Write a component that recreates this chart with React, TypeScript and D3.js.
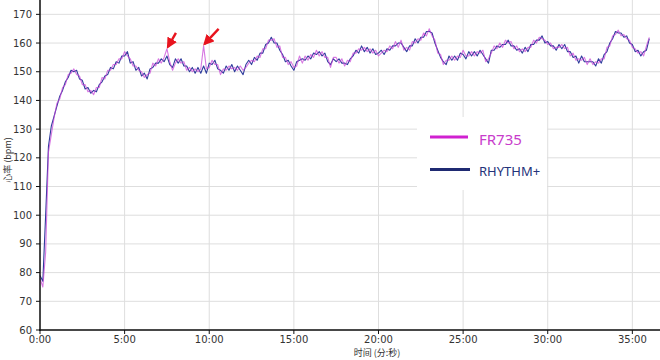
import React from "react";
import * as d3 from "d3";

// sampling interval of both recordings, seconds
const sampleSeconds = 10;

// RHYTHM+ heart rate (bpm), one value every 10 s from 0:00 to 36:00
const rhythmValues = [
  79, 77, 100, 124, 131, 134.5,
  138, 141.5, 143.5, 146.5, 148, 150.5,
  150, 150.5, 147.5, 147, 144, 144.5,
  142.5, 143.5, 143, 145.5, 146.5, 148.5,
  149, 151.5, 151, 153.5, 153, 155.5,
  155.5, 157, 153, 153.5, 150.5, 151.5,
  148.5, 149.5, 147.5, 151, 151.5, 153,
  153, 154.5, 153.5, 155.5, 152.5, 151.5,
  154.5, 153, 154.5, 152, 152, 150,
  151.5, 149.5, 151.5, 149.5, 152, 149.5,
  153, 152.5, 154, 151, 150.5, 149.5,
  152, 150.5, 152.5, 150, 152, 150.5,
  149, 152.5, 154, 152.5, 155, 154,
  156.5, 156.5, 159.5, 160, 162, 160,
  160, 157.5, 156, 153.5, 154, 152,
  150.5, 153.5, 154, 154.5, 154, 155.5,
  154.5, 156.5, 156, 157, 155.5, 156.5,
  153.5, 152.5, 154.5, 153.5, 154.5, 153,
  153, 152.5, 154.5, 155.5, 157.5, 156.5,
  159, 157, 158.5, 156.5, 158, 156,
  156.5, 157.5, 156, 158, 157.5, 159,
  159, 160, 160, 158.5, 157, 159,
  159, 161.5, 160, 162, 162, 164,
  164, 163.5, 160, 157.5, 155, 153.5,
  152.5, 155.5, 154, 155.5, 154, 156.5,
  156, 154.5, 157, 155.5, 157, 155.5,
  157.5, 156, 154.5, 153, 157.5, 157.5,
  159, 158.5, 159.5, 159.5, 161, 159,
  159, 157.5, 158, 156.5, 158.5, 157,
  159.5, 159.5, 161, 161, 162.5, 160,
  160.5, 159, 159, 157.5, 159.5, 158,
  159.5, 157, 157, 155, 155.5, 153,
  155.5, 153.5, 153.5, 153.5, 153.5, 152,
  154.5, 153, 156, 157, 160, 161.5,
  164, 163.5, 163.5, 162, 162.5, 160,
  159.5, 157, 157.5, 155.5, 157, 157.5,
  161.5,
];

// FR735 heart rate (bpm), same sampling
const fr735Values = [
  78, 75, 87, 122, 128, 134,
  139, 140.5, 144.5, 145.5, 149, 149.5,
  151, 149, 148.5, 145.5, 145.5, 143,
  143.5, 142, 144.5, 144.5, 148, 147.5,
  150.5, 150.5, 152.5, 152.5, 154.5, 154.5,
  157, 155.5, 154.5, 152, 152, 150.5,
  150, 148, 149, 149.5, 153, 152,
  154.5, 153, 155, 158, 153.5, 150.5,
  153, 154.5, 153, 153.5, 150.5, 151.5,
  150, 151, 150, 151, 159, 151,
  151.5, 154, 152.5, 152.5, 149, 151,
  150.5, 152, 151, 151.5, 150.5, 152,
  150.5, 151.5, 153, 154, 153.5, 155.5,
  155, 158, 158, 161, 161, 161.5,
  158.5, 159, 155, 155, 152.5, 153.5,
  151.5, 152, 155.5, 153, 155.5, 154,
  156, 155, 157.5, 155.5, 157, 155,
  155, 151.5, 155, 155, 153, 154.5,
  152, 154, 153.5, 156.5, 156.5, 158,
  157.5, 158.5, 157, 158, 156.5, 157.5,
  155.5, 156.5, 157.5, 157, 159, 158,
  160.5, 158.5, 161, 157.5, 158.5, 157.5,
  160.5, 160, 161.5, 161, 163.5, 162.5,
  165, 162.5, 161, 156.5, 156, 152.5,
  154, 154, 155.5, 154, 155.5, 155,
  157.5, 155.5, 155.5, 157, 155.5, 157,
  156.5, 157.5, 153.5, 154.5, 156.5, 159,
  158, 160, 158.5, 161, 160, 160.5,
  158, 159, 157, 158, 157, 158.5,
  158.5, 161, 160, 162, 161.5, 161,
  159.5, 160, 158, 158.5, 158.5, 159.5,
  158, 158.5, 155.5, 156.5, 154, 154.5,
  154, 155, 152.5, 154.5, 152.5, 153.5,
  153, 154.5, 154.5, 158.5, 159, 162.5,
  163, 164.5, 162.5, 163, 161.5, 161,
  158.5, 158, 156.5, 157, 155.5, 159,
  162,
];

// axis ticks
const yTicks = [60, 70, 80, 90, 100, 110, 120, 130, 140, 150, 160, 170];
const xTickMinutes = [0, 5, 10, 15, 20, 25, 30, 35];

// annotated spikes (indices into fr735Values)
const arrowIndices = [45, 58];

const seriesNames = ["FR735", "RHYTHM+"];

const W = 660;
const H = 360;

function fmt(sec: number) {
  const m = Math.floor(sec / 60);
  const s = Math.round(sec % 60);
  return `${m}:${s < 10 ? "0" : ""}${s}`;
}

export default function App() {
  const x = d3.scaleLinear().domain([0, 2198]).range([40, 660]);
  const y = d3.scaleLinear().domain([60, 175]).range([330, 0]);

  const line = d3
    .line<number>()
    .x((_, i) => x(i * sampleSeconds))
    .y((d) => y(d));

  const frColor = "#c63fd6";
  const rhColor = "#2f3c9c";

  const tickFont = "'DejaVu Sans', Verdana, sans-serif";

  return (
    <svg
      width={W}
      height={H}
      style={{ position: "absolute", left: 0, top: 0, background: "#fff" }}
    >
      <rect x={0} y={0} width={W} height={H} fill="#fff" />
      {/* grid */}
      {yTicks.map((t) => (
        <line key={"gy" + t} x1={40} x2={660} y1={y(t)} y2={y(t)} stroke="#dedede" strokeWidth={1} />
      ))}
      {xTickMinutes.map((m) => (
        <line key={"gx" + m} x1={x(m * 60)} x2={x(m * 60)} y1={0} y2={330} stroke="#dedede" strokeWidth={1} />
      ))}

      {/* legend background */}
      <rect x={417} y={117} width={130} height={73} fill="#fff" />

      {/* series */}
      <path d={line(rhythmValues) || ""} fill="none" stroke={rhColor} strokeWidth={1.1} strokeLinejoin="round" />
      <path d={line(fr735Values) || ""} fill="none" stroke={frColor} strokeWidth={1.1} strokeOpacity={0.7} strokeLinejoin="round" />

      {/* axes */}
      <line x1={40} x2={40} y1={0} y2={331} stroke="#111" strokeWidth={1.5} />
      <line x1={39} x2={660} y1={330} y2={330} stroke="#111" strokeWidth={1.5} />
      {yTicks.map((t) => (
        <g key={"yt" + t}>
          <line x1={36} x2={40} y1={y(t)} y2={y(t)} stroke="#111" strokeWidth={1} />
          <text x={32} y={y(t) + 3.5} textAnchor="end" fontSize={10} fill="#333" fontFamily={tickFont}>
            {t}
          </text>
        </g>
      ))}
      {xTickMinutes.map((m) => (
        <g key={"xt" + m}>
          <line x1={x(m * 60)} x2={x(m * 60)} y1={330} y2={334} stroke="#111" strokeWidth={1} />
          <text x={x(m * 60)} y={343} textAnchor="middle" fontSize={10} fill="#333" fontFamily={tickFont}>
            {fmt(m * 60)}
          </text>
        </g>
      ))}

      {/* axis titles */}
      <text
        transform={`translate(11, 160) rotate(-90)`}
        textAnchor="middle"
        fontSize={9}
        fill="#333"
        fontFamily="'Noto Sans CJK SC', sans-serif"
      >
        心率 (bpm)
      </text>
      <text x={377} y={356} textAnchor="middle" fontSize={9} fill="#333" fontFamily="'Noto Sans CJK SC', sans-serif">
        时间 (分:秒)
      </text>

      {/* legend */}
      <line x1={430} x2={468} y1={137} y2={137} stroke="#d020d0" strokeWidth={3} />
      <text x={479} y={144.5} fontSize={15} fill="#c83ccb" fontFamily="'Noto Sans', sans-serif">
        {seriesNames[0]}
      </text>
      <line x1={430} x2={470} y1={169.5} y2={169.5} stroke="#1f2a72" strokeWidth={3} />
      <text x={479} y={175.7} fontSize={13} fill="#24337a" fontFamily="'Noto Sans', sans-serif">
        {seriesNames[1]}
      </text>

      {/* red arrows */}
      <defs>
        <marker id="ah" viewBox="0 0 10 10" refX={8} refY={5} markerWidth={4.5} markerHeight={4.5} orient="auto">
          <path d="M0,0 L10,5 L0,10 z" fill="#e8141e" />
        </marker>
      </defs>
      {arrowIndices.map((idx, k) => {
        const px = x(idx * sampleSeconds);
        const py = y(fr735Values[idx]);
        const dx = k === 0 ? 8 : 14;
        const dy = k === 0 ? 13 : 14;
        return (
          <line
            key={"ar" + idx}
            x1={px + dx + 1}
            y1={py - dy - 3}
            x2={px + 1}
            y2={py - 2}
            stroke="#e8141e"
            strokeWidth={2.4}
            markerEnd="url(#ah)"
          />
        );
      })}
    </svg>
  );
}
